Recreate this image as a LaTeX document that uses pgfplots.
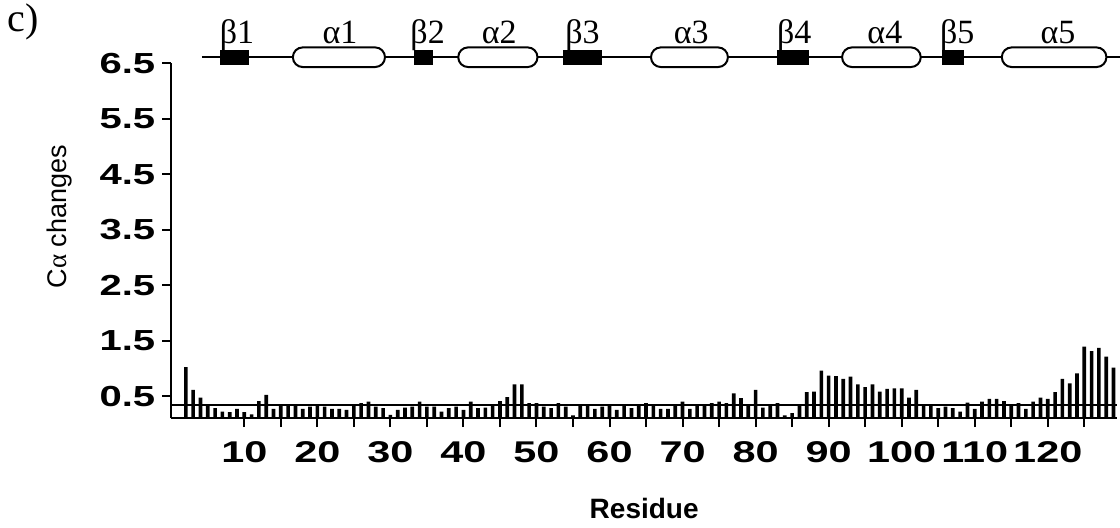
\documentclass[border=0pt]{standalone}
\usepackage{fontspec}
\setmainfont{Liberation Serif}
\newfontfamily\labsans{Liberation Sans}
\newfontfamily\ticksf[FakeStretch=1.38]{Liberation Sans}
\usepackage{pgfplots}
\usepackage{pgfplotstable}
\pgfplotsset{compat=1.18}
\pgfplotstableread{
r v
2 1.02
3 0.61
4 0.47
5 0.35
6 0.28
7 0.22
8 0.21
9 0.27
10 0.21
11 0.17
12 0.41
13 0.52
14 0.27
15 0.34
16 0.33
17 0.33
18 0.27
19 0.31
20 0.34
21 0.31
22 0.27
23 0.27
24 0.25
25 0.33
26 0.37
27 0.40
28 0.31
29 0.28
30 0.16
31 0.25
32 0.29
33 0.31
34 0.40
35 0.31
36 0.31
37 0.22
38 0.28
39 0.31
40 0.25
41 0.40
42 0.28
43 0.29
44 0.34
45 0.41
46 0.48
47 0.71
48 0.71
49 0.37
50 0.37
51 0.31
52 0.28
53 0.37
54 0.31
55 0.15
56 0.35
57 0.34
58 0.27
59 0.31
60 0.34
61 0.25
62 0.33
63 0.28
64 0.34
65 0.37
66 0.34
67 0.27
68 0.27
69 0.34
70 0.40
71 0.27
72 0.33
73 0.33
74 0.37
75 0.40
76 0.37
77 0.55
78 0.46
79 0.34
80 0.61
81 0.29
82 0.34
83 0.37
84 0.15
85 0.19
86 0.34
87 0.57
88 0.58
89 0.96
90 0.87
91 0.86
92 0.81
93 0.85
94 0.71
95 0.66
96 0.71
97 0.58
98 0.63
99 0.64
100 0.64
101 0.47
102 0.61
103 0.34
104 0.34
105 0.28
106 0.31
107 0.28
108 0.22
109 0.38
110 0.27
111 0.40
112 0.45
113 0.45
114 0.41
115 0.34
116 0.37
117 0.27
118 0.40
119 0.47
120 0.45
121 0.57
122 0.81
123 0.73
124 0.91
125 1.39
126 1.31
127 1.37
128 1.21
129 1.01
}\calpha
\begin{document}
\begin{tikzpicture}
\useasboundingbox (-85.63pt,-54.4pt) rectangle (474.37pt,209.1pt);
\begin{axis}[
  scale only axis, width=472.95pt, height=177.45pt,
  xmin=0, xmax=129.5, ymin=0.1, ymax=6.5,
  axis x line*=bottom, axis y line*=left,
  axis line style={line width=1pt, black},
  clip mode=individual,
  xtick={10,20,...,120}, minor xtick={15,25,...,125},
  ytick={0.5,1.5,...,6.5},
  yticklabel={\pgfmathprintnumber[fixed,fixed zerofill,precision=1]{\tick}},
  /pgf/number format/assume math mode=true,
  tick align=outside, major tick length=4.5pt, minor tick length=4.5pt,
  tick style={line width=1pt, black},
  tick label style={font=\ticksf\bfseries\fontsize{14.5}{16}\selectfont},
  xticklabel style={font=\ticksf\bfseries\fontsize{15}{16}\selectfont, yshift=-3.5pt},
  xlabel={Residue},
  xlabel style={font=\labsans\bfseries\fontsize{14}{16}\selectfont, at={(axis description cs:0.5,0)}, anchor=center, yshift=-45.3pt},
  ylabel={C{\rmfamily α} changes},
  ylabel style={font=\labsans\fontsize{13.5}{15}\selectfont, at={(axis description cs:-0.1177,0.568)}, anchor=center},
]
\addplot[ybar, bar width=0.5, fill=black, draw=none] table[x=r, y=v] {\calpha};
\addplot[line width=0.8pt, black] coordinates {(0,0.34) (129.5,0.34)};
% secondary structure
\draw[line width=0.75pt] (axis cs:4.2,6.61) -- (axis cs:130,6.61);
\fill (axis cs:6.62,6.472) rectangle (axis cs:10.68,6.748);
\fill (axis cs:33.18,6.472) rectangle (axis cs:35.86,6.748);
\fill (axis cs:53.62,6.472) rectangle (axis cs:58.99,6.748);
\fill (axis cs:82.93,6.472) rectangle (axis cs:87.35,6.748);
\fill (axis cs:105.5,6.472) rectangle (axis cs:108.48,6.748);
\draw[line width=1pt, fill=white, rounded corners=4.9pt] (axis cs:16.65,6.433) rectangle (axis cs:29.26,6.787);
\draw[line width=1pt, fill=white, rounded corners=4.9pt] (axis cs:39.29,6.433) rectangle (axis cs:50.14,6.787);
\draw[line width=1pt, fill=white, rounded corners=4.9pt] (axis cs:65.68,6.433) rectangle (axis cs:76.21,6.787);
\draw[line width=1pt, fill=white, rounded corners=4.9pt] (axis cs:91.84,6.433) rectangle (axis cs:102.61,6.787);
\draw[line width=1pt, fill=white, rounded corners=4.9pt] (axis cs:113.71,6.433) rectangle (axis cs:128.03,6.787);
\begin{scope}[every node/.style={anchor=base, font=\fontsize{17}{19}\selectfont, inner sep=0pt}]
\node at (axis cs:9.0,6.854) {β1};
\node at (axis cs:23.1,6.854) {α1};
\node at (axis cs:35.1,6.854) {β2};
\node at (axis cs:44.9,6.854) {α2};
\node at (axis cs:56.3,6.854) {β3};
\node at (axis cs:71.2,6.854) {α3};
\node at (axis cs:85.3,6.854) {β4};
\node at (axis cs:97.7,6.854) {α4};
\node at (axis cs:107.6,6.854) {β5};
\node at (axis cs:121.4,6.854) {α5};
\end{scope}
\end{axis}
\node[anchor=base west, inner sep=0pt, font=\fontsize{20}{22}\selectfont] at (-82pt,193.15pt) {c)};
\end{tikzpicture}
\end{document}
